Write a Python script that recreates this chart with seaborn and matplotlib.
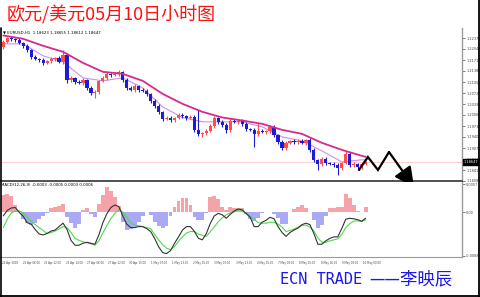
import numpy as np
import matplotlib
matplotlib.use("Agg")
import matplotlib.pyplot as plt
import seaborn as sns
from matplotlib.lines import Line2D
from matplotlib.patches import FancyArrowPatch

# ---------------- data (EUR/USD H1; one candle ~ 3 hours) -------------
open_first = 1.2211
close = [1.2226, 1.2238, 1.2235, 1.2232, 1.2223, 1.2214, 1.2202, 1.2181, 1.2175, 1.2172,
         1.2163, 1.2169, 1.2175, 1.2178, 1.2166, 1.2187, 1.2112, 1.2118, 1.2106, 1.2103,
         1.2112, 1.2088, 1.2073, 1.2076, 1.2109, 1.2118, 1.2130, 1.2127, 1.2130, 1.2136,
         1.2112, 1.2088, 1.2082, 1.2094, 1.2082, 1.2079, 1.2070, 1.2049, 1.2034, 1.2016,
         1.1995, 1.1998, 1.1992, 1.1998, 1.2007, 1.2004, 1.1998, 1.2001, 1.1962, 1.1950,
         1.1953, 1.1959, 1.1974, 1.1998, 1.1986, 1.1977, 1.1962, 1.1989, 1.1986, 1.1989,
         1.1980, 1.1965, 1.1962, 1.1950, 1.1959, 1.1956, 1.1959, 1.1971, 1.1947, 1.1926,
         1.1908, 1.1923, 1.1929, 1.1926, 1.1929, 1.1923, 1.1932, 1.1902, 1.1872, 1.1860,
         1.1875, 1.1863, 1.1860, 1.1857, 1.1848, 1.1863, 1.1890, 1.1857, 1.1860, 1.1851,
         1.1860, 1.18647]
wick_up_pips = [6, 4, 5, 3, 5, 4, 6, 4, 5, 3, 6, 4, 5, 4, 6, 15, 5, 6, 4, 7,
                5, 4, 6, 5, 4, 6, 5, 4, 6, 7, 4, 5, 6, 7, 4, 5, 6, 4, 5, 6,
                4, 6, 5, 4, 7, 5, 4, 6, 5, 60, 4, 6, 5, 7, 4, 5, 6, 8, 5, 4,
                6, 5, 4, 6, 25, 5, 4, 6, 7, 4, 5, 6, 4, 5, 6, 7, 4, 5, 6, 4,
                5, 6, 4, 7, 5, 4, 9, 5, 6, 4, 5, 3]
wick_dn_pips = [5, 4, 6, 5, 4, 6, 5, 7, 4, 5, 6, 4, 5, 6, 4, 5, 9, 5, 6, 4,
                5, 6, 7, 15, 5, 4, 6, 5, 4, 6, 5, 6, 4, 5, 6, 4, 5, 6, 7, 5,
                6, 4, 5, 6, 4, 5, 6, 4, 7, 6, 9, 5, 4, 6, 5, 7, 9, 5, 4, 6,
                5, 6, 4, 39, 5, 4, 6, 5, 7, 6, 7, 5, 4, 6, 5, 4, 6, 5, 6, 18,
                5, 6, 4, 5, 21, 5, 4, 6, 5, 7, 5, 4]

ma_candle = [0, 5, 10, 15, 20, 25, 30, 35, 40, 45, 50, 55, 60, 65, 70, 75, 80, 85, 90, 91]
ma_slow = [1.2245, 1.2235, 1.2214, 1.2196, 1.2163, 1.2136, 1.2130, 1.2109, 1.2070, 1.2040,
           1.2016, 1.1999, 1.1990, 1.1980, 1.1962, 1.1950, 1.1923, 1.1902, 1.1884, 1.1881]
ma_fast = [1.2220, 1.2220, 1.2184, 1.2166, 1.2118, 1.2109, 1.2118, 1.2088, 1.2031, 1.1999,
           1.1986, 1.1986, 1.1986, 1.1971, 1.1941, 1.1929, 1.1899, 1.1866, 1.1872, 1.1872]

osma = [0.0035, 0.0038, 0.0034, 0.0015, 0.0003, -0.0014, -0.0022, -0.0026, -0.0022, -0.0014,
        -0.0007, -0.0001, 0.0008, 0.0012, 0.0014, 0.0018, -0.0010, -0.0022, -0.0031, -0.0024,
        0.0005, 0.0008, -0.0003, -0.0009, 0.0018, 0.0035, 0.0051, 0.0044, 0.0031, 0.0013,
        -0.0019, -0.0035, -0.0034, -0.0029, -0.0020, -0.0007, 0.0000, -0.0005, -0.0019, -0.0027,
        -0.0031, -0.0027, -0.0007, 0.0012, 0.0023, 0.0029, 0.0029, 0.0015, -0.0009, -0.0016,
        -0.0016, -0.0002, 0.0031, 0.0034, 0.0027, 0.0010, 0.0005, 0.0011, 0.0008, 0.0008,
        0.0008, -0.0004, -0.0014, -0.0018, -0.0011, -0.0001, 0.0001, 0.0000, -0.0004, -0.0011,
        -0.0023, -0.0023, 0.0001, 0.0007, 0.0012, 0.0016, 0.0009, 0.0001, -0.0016, -0.0031,
        -0.0026, -0.0007, 0.0008, 0.0008, 0.0010, 0.0012, 0.0037, 0.0029, 0.0015, 0.0003,
        0.0001, 0.0010]
macd_main = [-0.0007, 0.0004, 0.0009, 0.0010, 0.0000, -0.0008, -0.0021, -0.0024, -0.0035, -0.0044,
             -0.0046, -0.0043, -0.0038, -0.0036, -0.0029, -0.0022, -0.0035, -0.0057, -0.0067, -0.0067,
             -0.0063, -0.0061, -0.0063, -0.0065, -0.0046, -0.0021, -0.0003, 0.0010, 0.0015, 0.0012,
             -0.0007, -0.0024, -0.0031, -0.0031, -0.0029, -0.0029, -0.0033, -0.0039, -0.0053, -0.0070,
             -0.0082, -0.0084, -0.0078, -0.0063, -0.0050, -0.0036, -0.0029, -0.0029, -0.0039, -0.0053,
             -0.0056, -0.0043, -0.0022, -0.0007, -0.0002, -0.0005, -0.0012, -0.0004, 0.0003, 0.0007,
             0.0005, -0.0002, -0.0010, -0.0029, -0.0029, -0.0020, -0.0016, -0.0010, -0.0013, -0.0029,
             -0.0041, -0.0049, -0.0041, -0.0036, -0.0032, -0.0025, -0.0022, -0.0025, -0.0043, -0.0065,
             -0.0065, -0.0058, -0.0053, -0.0050, -0.0050, -0.0033, -0.0014, -0.0012, -0.0013, -0.0015,
             -0.0018, -0.0012]
macd_signal = [-0.0031, -0.0014, -0.0001, 0.0003, 0.0003, -0.0001, -0.0010, -0.0018, -0.0025, -0.0031,
               -0.0037, -0.0043, -0.0041, -0.0038, -0.0034, -0.0029, -0.0031, -0.0041, -0.0053, -0.0057,
               -0.0060, -0.0062, -0.0064, -0.0067, -0.0058, -0.0042, -0.0027, -0.0013, -0.0002, 0.0006,
               0.0001, -0.0010, -0.0021, -0.0026, -0.0027, -0.0029, -0.0031, -0.0033, -0.0045, -0.0056,
               -0.0066, -0.0073, -0.0076, -0.0070, -0.0059, -0.0050, -0.0042, -0.0039, -0.0039, -0.0044,
               -0.0047, -0.0049, -0.0039, -0.0029, -0.0019, -0.0011, -0.0005, -0.0001, 0.0001, 0.0005,
               0.0003, -0.0003, -0.0009, -0.0014, -0.0021, -0.0022, -0.0022, -0.0020, -0.0020, -0.0024,
               -0.0030, -0.0039, -0.0037, -0.0034, -0.0030, -0.0027, -0.0026, -0.0030, -0.0038, -0.0052,
               -0.0061, -0.0061, -0.0058, -0.0056, -0.0054, -0.0045, -0.0031, -0.0023, -0.0018, -0.0017,
               -0.0019, -0.0015]

price_ticks = [1.22375, 1.22045, 1.21715, 1.21385, 1.21055, 1.20725, 1.20395,
               1.20065, 1.19735, 1.19405, 1.19075, 1.18745, 1.18415, 1.18085]
ind_ticks = [0.0057, 0.0, -0.0088]
ind_tick_labels = ["0.0057", "0.00", "-0.0088"]
time_labels = ["24 Apr 2018", "25 Apr 06:00", "25 Apr 22:00", "26 Apr 14:00", "27 Apr 06:00",
               "27 Apr 22:00", "30 Apr 15:00", "1 May 07:00", "1 May 23:00", "2 May 15:00",
               "3 May 07:00", "3 May 23:00", "4 May 15:00", "7 May 08:00", "8 May 00:00",
               "8 May 16:00", "9 May 08:00", "10 May 00:00"]
bid = 1.18647
legend_main = "EURUSD,H1  1.18623 1.18655 1.18612 1.18647"
legend_ind = "MACD(12,26,9) -0.0003 -0.0005 0.0003 0.0006"
title = "欧元/美元05月10日小时图"
footer_en = "ECN TRADE"
footer_cn = "——李映辰"

# ---------------- figure ----------------
sns.set_theme(style="white")
plt.rcParams["font.family"] = ["DejaVu Sans", "Noto Sans CJK SC"]

W, H = 480, 297
fig = plt.figure(figsize=(W / 100, H / 100), dpi=100)
fig.patch.set_facecolor("white")


def box(x0, y0, x1, y1):
    return [x0 / W, 1 - y1 / H, (x1 - x0) / W, (y1 - y0) / H]


ax = fig.add_axes(box(0, 28, 462, 181))
ax2 = fig.add_axes(box(0, 182, 462, 257))

N = len(close)
hours = np.arange(N) * 3 + 1          # bar time in trading hours
opens = np.array([open_first] + close[:-1])
closes = np.array(close)
highs = np.maximum(opens, closes) + np.array(wick_up_pips) / 1e4
lows = np.minimum(opens, closes) - np.array(wick_dn_pips) / 1e4
bull = closes >= opens
RED, BLUE = "#ff4d4d", "#1c1cd6"
cols = np.where(bull, RED, BLUE)

xlim = (-1.5, 346.6)
for a in (ax, ax2):
    a.set_xlim(*xlim)
    a.set_facecolor("white")
    for s in ("left", "top"):
        a.spines[s].set_visible(False)
    a.spines["right"].set_color("#9a9a9a")
    a.spines["right"].set_linewidth(1.0)

# current price line
ax.axhline(bid, color="#ffd0d0", lw=0.7, zorder=1)

# candles
ax.vlines(hours, lows, highs, colors=cols, lw=0.8, zorder=3)
body_h = np.maximum(np.abs(closes - opens), 0.0001)
ax.bar(hours, body_h, bottom=np.minimum(opens, closes), width=2.4, color=cols,
       linewidth=0, zorder=4)

# moving averages
ma_hours = np.array(ma_candle) * 3 + 1
sns.lineplot(x=ma_hours, y=ma_fast, ax=ax, color="#cf8ff0", lw=0.8, legend=False,
             estimator=None, sort=False, zorder=2)
sns.lineplot(x=ma_hours, y=ma_slow, ax=ax, color="#d62a8c", lw=1.3, legend=False,
             estimator=None, sort=False, zorder=5)

ax.set_ylim(1.18085, 1.22675)
ax.yaxis.tick_right()
ax.set_yticks(price_ticks)
ax.set_yticklabels([f"{v:.5f}" for v in price_ticks])
ax.tick_params(axis="y", length=2, width=0.5, pad=1.0, labelsize=2.5, colors="#444444")
ax.set_xticks([])
ax.spines["bottom"].set_color("#505050")
ax.spines["bottom"].set_linewidth(1.4)
ax.set_xlabel("")
ax.set_ylabel("")

# bid label on price axis
ax.text(1.004, bid, f"{bid:.5f}", transform=ax.get_yaxis_transform(), fontsize=2.5,
        color="white", va="center", ha="left",
        bbox=dict(boxstyle="square,pad=0.25", fc="black", ec="black"))

ax.text(0.006, 0.985, "\u25BC " + legend_main, transform=ax.transAxes, fontsize=2.8,
        color="black", va="top", ha="left")

# hand-drawn zigzag forecast arrow (annotation)
zig_h = [269.0, 275.7, 283.3, 291.6]
zig_p = [1.18415, 1.18805, 1.18415, 1.18955]
ax.plot(zig_h, zig_p, color="black", lw=1.6, solid_joinstyle="miter", clip_on=False, zorder=6)
arr = FancyArrowPatch((291.6, 1.18955), (310.5, 1.17900),
                      arrowstyle="-|>,head_length=1.2,head_width=0.6", mutation_scale=10,
                      color="black", lw=1.6, clip_on=False, zorder=6,
                      shrinkA=0, shrinkB=0)
ax.add_patch(arr)

# ---------------- indicator panel ----------------
osma_arr = np.array(osma)
hcols = np.where(osma_arr >= 0, "#f5a3a8", "#a9a9f6")
ax2.bar(hours, osma_arr, width=2.9, color=hcols, linewidth=0, zorder=2)
sns.lineplot(x=hours, y=macd_signal, ax=ax2, color="#4cdc4c", lw=0.8, legend=False,
             estimator=None, sort=False, zorder=3)
sns.lineplot(x=hours, y=macd_main, ax=ax2, color="#333333", lw=0.8, legend=False,
             estimator=None, sort=False, zorder=4)

ax2.set_ylim(-0.0091, 0.0062)
ax2.yaxis.tick_right()
ax2.set_yticks(ind_ticks)
ax2.set_yticklabels(ind_tick_labels)
ax2.tick_params(axis="y", length=2, width=0.5, pad=1.0, labelsize=2.5, colors="#444444")
ax2.spines["bottom"].set_color("#9a9a9a")
ax2.spines["bottom"].set_linewidth(0.8)
ax2.set_xticks(np.arange(len(time_labels)) * 16)
ax2.set_xticklabels(time_labels, ha="left")
ax2.tick_params(axis="x", length=2, width=0.5, pad=0.8, labelsize=1.9, colors="#444444")
ax2.set_xlabel("")
ax2.set_ylabel("")
ax2.text(0.002, 0.985, legend_ind, transform=ax2.transAxes, fontsize=2.8,
         color="black", va="top", ha="left")

# ---------------- texts and frame ----------------
fig.text(7 / W, 1 - 15 / H, title, color="#ff1010", fontsize=13, va="center", ha="left",
         family=["Noto Sans CJK SC", "DejaVu Sans"])
fig.text(280 / W, 1 - 279 / H, footer_en, color="#1a1aee", fontsize=11, va="center",
         ha="left", family=["DejaVu Sans Mono"])
fig.text(452 / W, 1 - 279 / H, footer_cn, color="#1a1aee", fontsize=12.5, va="center",
         ha="right", family=["Noto Sans CJK SC", "DejaVu Sans"])

fig.add_artist(Line2D([0.6 / W, 0.6 / W], [0, 1 - 28 / H], color="black", lw=1.2))
fig.add_artist(Line2D([478.8 / W, 478.8 / W], [0, 1], color="black", lw=1.3))
fig.add_artist(Line2D([0, 1], [1 - 296.3 / H, 1 - 296.3 / H], color="black", lw=1.3))

fig.savefig("out.png", dpi=100, facecolor="white")
